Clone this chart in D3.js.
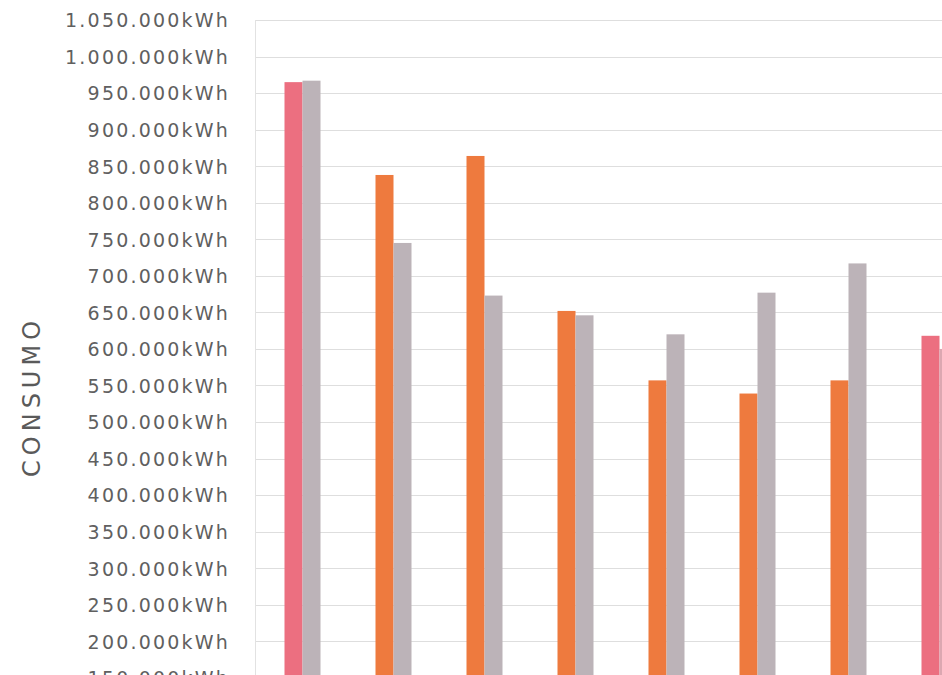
<!DOCTYPE html>
<html>
<head>
<meta charset="utf-8">
<script src="https://cdn.jsdelivr.net/npm/d3@7"></script>
<style>
  html, body { margin: 0; padding: 0; background: #ffffff; overflow: hidden; }
  svg { display: block; }
</style>
</head>
<body>
<svg id="chart" width="942" height="675"></svg>
<script>
// ---- data ----
const categories = ["1", "2", "3", "4", "5", "6", "7", "8"];
const series1 = [965000, 838000, 864000, 652000, 557000, 539000, 557000, 618000];
const series2 = [967000, 745000, 673000, 646000, 620000, 677000, 717000, 600000];
const series1Colors = ["#ec6f80", "#ee7a3e", "#ee7a3e", "#ee7a3e", "#ee7a3e", "#ee7a3e", "#ee7a3e", "#ec6f80"];
const series2Colors = ["#bcb3b8", "#bcb3b8", "#bcb3b8", "#bcb3b8", "#bcb3b8", "#bcb3b8", "#bcb3b8", "#dca7b1"];
const tickValues = d3.range(150000, 1050001, 50000);
const yTitle = "CONSUMO";
const unit = "kWh";

// ---- layout ----
const svg = d3.select("#chart");
const plotLeft = 255;
const step = 91;
const pxPer50k = 36.55;
const yTop = 20;

const y = d3.scaleLinear()
  .domain([0, 1050000])
  .range([yTop + (1050000 / 50000) * pxPer50k, yTop]);

const x0 = d3.scaleBand()
  .domain(categories)
  .range([plotLeft + 2, plotLeft + 2 + step * categories.length])
  .paddingInner(0)
  .paddingOuter(0);

const x1 = d3.scaleBand()
  .domain(["s1", "s2"])
  .range([0, 36])
  .padding(0);

const loc = d3.formatLocale({ decimal: ",", thousands: ".", grouping: [3], currency: ["", ""] });
const fmt = loc.format(",d");

// gridlines
svg.append("g")
  .selectAll("line")
  .data(tickValues)
  .join("line")
  .attr("x1", plotLeft)
  .attr("x2", 942)
  .attr("y1", d => Math.round(y(d)) + 0.5)
  .attr("y2", d => Math.round(y(d)) + 0.5)
  .attr("stroke", "#dedede")
  .attr("stroke-width", 1);

// left plot border
svg.append("line")
  .attr("x1", plotLeft + 0.5).attr("x2", plotLeft + 0.5)
  .attr("y1", y(1050000)).attr("y2", 675)
  .attr("stroke", "#e2e2e2");

// bars
const rows = categories.map((c, i) => ({
  cat: c,
  vals: [
    { key: "s1", v: series1[i], color: series1Colors[i] },
    { key: "s2", v: series2[i], color: series2Colors[i] }
  ]
}));

const groups = svg.append("g")
  .selectAll("g")
  .data(rows)
  .join("g")
  .attr("transform", d => `translate(${x0(d.cat) + (x0.bandwidth() - 36) / 2},0)`);

groups.selectAll("rect")
  .data(d => d.vals)
  .join("rect")
  .attr("x", d => x1(d.key))
  .attr("width", x1.bandwidth())
  .attr("y", d => y(d.v))
  .attr("height", d => y(0) - y(d.v))
  .attr("fill", d => d.color);

// y axis labels
const yAxis = d3.axisLeft(y)
  .tickValues(tickValues)
  .tickSize(0)
  .tickPadding(0)
  .tickFormat(d => fmt(d) + unit);

const axisG = svg.append("g")
  .attr("transform", "translate(230,0)")
  .call(yAxis);
axisG.select(".domain").remove();
axisG.selectAll("text")
  .attr("font-family", "DejaVu Sans, sans-serif")
  .attr("font-size", 19)
  .attr("letter-spacing", "2.2px")
  .attr("fill", "#606060")
  .attr("dy", "0.36em");

// y title
svg.append("text")
  .attr("transform", `translate(40, ${y(535000)}) rotate(-90)`)
  .attr("text-anchor", "middle")
  .attr("font-family", "DejaVu Sans, sans-serif")
  .attr("font-size", 24)
  .attr("letter-spacing", "5px")
  .attr("fill", "#5a5a5a")
  .text(yTitle);
</script>
</body>
</html>
